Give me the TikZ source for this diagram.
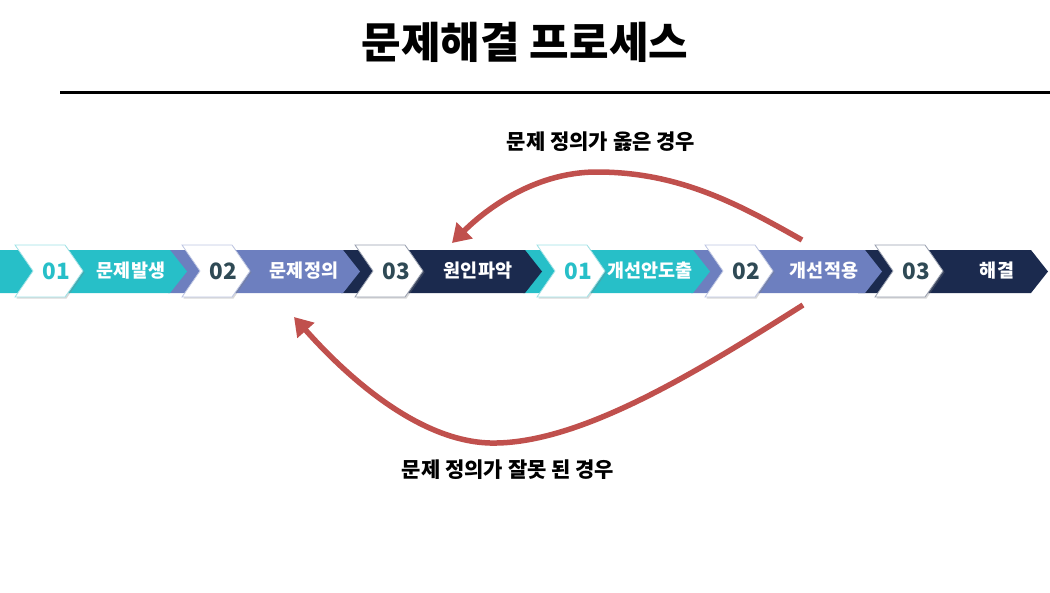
\documentclass[tikz,border=0pt]{standalone}
\usepackage{fontspec}
\setmainfont{Noto Sans CJK KR}
\usepackage{xcolor}
\definecolor{procteal}{HTML}{27BFC8}
\definecolor{procblue}{HTML}{6D7FBF}
\definecolor{procnavy}{HTML}{1B2A4E}
\definecolor{procnum}{HTML}{2F4A55}
\definecolor{procred}{HTML}{C0504D}
\usetikzlibrary{arrows.meta,positioning,calc,shadows}

\begin{document}
\begin{tikzpicture}[x=1pt,y=-1pt,
  whitechev/.style={fill=white, draw=#1!45, line width=0.8pt,
        drop shadow={opacity=0.3,shadow xshift=1.5pt,shadow yshift=-1.5pt}},
  numtext/.style={font=\fontsize{22.5}{22.5}\selectfont\bfseries, text=#1},
  steptext/.style={font=\fontsize{18.5}{18.5}\selectfont\bfseries, text=white},
  casetext/.style={font=\fontsize{21}{21}\selectfont\bfseries, text=black},
  loopback/.style={draw=procred, line width=5.5pt,
        -{Triangle[length=18pt,width=22pt]}}]

  \useasboundingbox (0,0) rectangle (1050,592);

  %% Title and rule
  \node[font=\fontsize{43}{43}\selectfont\bfseries] (title) at (525,42)
    {문제해결 프로세스};
  \coordinate (ruleL) at (60,92);
  \coordinate (ruleR) at (1050,92);
  \draw[line width=3pt] (ruleL) -- (ruleR);

  %% Colour bands, right to left so each tip lies on the next band
  \foreach \bs/\xs/\xt/\col in {858/875/1048/procnavy, 691/705/882/procblue,
      523/537/710/procteal, 341/355/542/procnavy, 168/182/360/procblue,
      -30/15/187/procteal}
    \fill[\col] (\bs,250) -- (\xt-17,250) -- (\xt,271.5) -- (\xt-17,293)
      -- (\bs,293) -- (\bs+17,271.5) -- cycle;

  %% White number chevrons and step labels
  \foreach \xs/\col/\ncol/\num/\txt/\dx [count=\i] in
      {15/procteal/procteal/01/문제발생/116,
       182/procblue/procnum/02/문제정의/122,
       355/procnavy/procnum/03/원인파악/123,
       537/procteal/procteal/01/개선안도출/113,
       705/procblue/procnum/02/개선적용/119,
       875/procnavy/procnum/03/해결/122}
  {
    \filldraw[whitechev=\col] (\xs,245) -- (\xs+50,245) -- (\xs+68,271)
      -- (\xs+50,297) -- (\xs,297) -- (\xs+18,271) -- cycle;
    \node[numtext=\ncol] (num\i) at (\xs+41,271) {\num};
    \node[steptext] (step\i) at (\xs+\dx,271) {\txt};
  }

  %% Case labels
  \node[casetext] (okcase) at (601,142) {문제 정의가 옳은 경우};
  \node[casetext] (badcase) at (508,470) {문제 정의가 잘못 된 경우};

  %% Loop-back arrows
  \coordinate (okstart) at (802,240);
  \coordinate (okpeak) at (597,172);
  \coordinate (okend) at (452,243);
  \coordinate (badstart) at (803,305);
  \coordinate (badlow) at (490,443);
  \coordinate (badend) at (294,317);

  \draw[loopback] (okstart) .. controls (740,205) and (680,172) .. (okpeak)
    .. controls (530,172) and (480,215) .. (okend);
  \draw[loopback] (badstart) .. controls (700,370) and (580,445) .. (badlow)
    .. controls (420,441) and (350,380) .. (badend);

\end{tikzpicture}
\end{document}
